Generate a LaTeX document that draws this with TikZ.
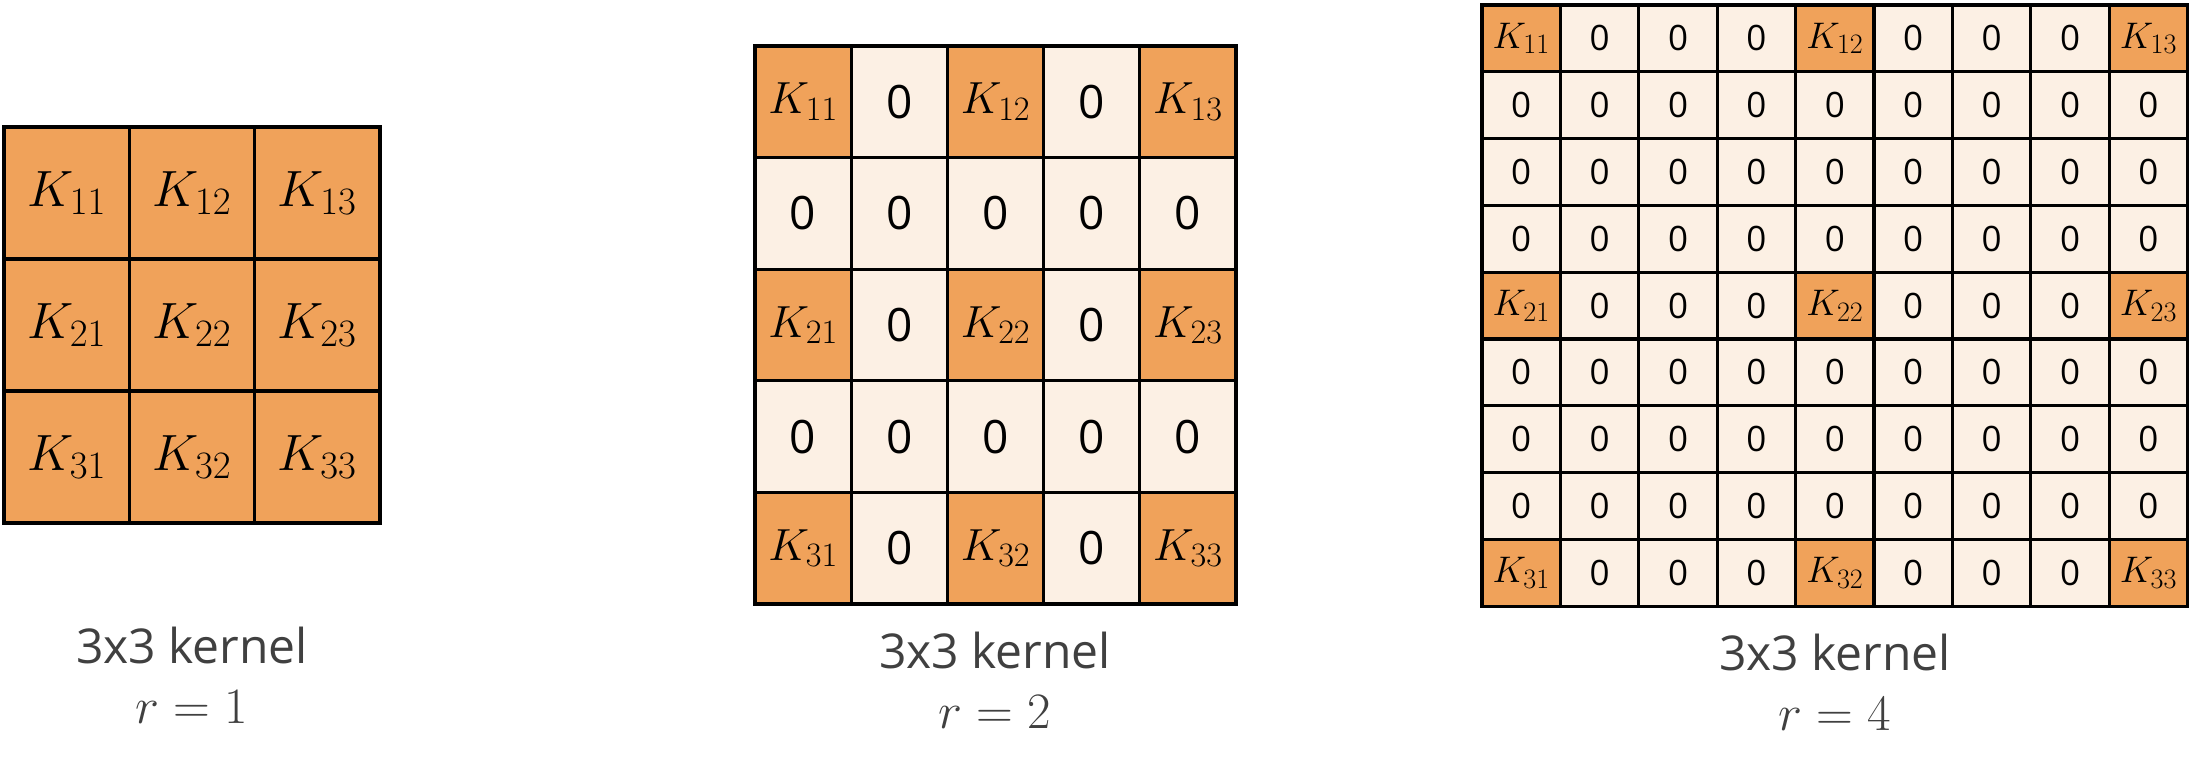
\RequirePackage{fix-cm}
\documentclass[tikz,border=0pt]{standalone}
\usepackage[no-math]{fontspec}
\setmainfont{Open Sans}
\renewcommand\defaultscriptratio{.76}

\definecolor{kfill}{HTML}{F0A25A}
\definecolor{zerofill}{HTML}{FCF0E4}
\definecolor{captiongray}{HTML}{404040}

\begin{document}
\begin{tikzpicture}[x=1pt, y=-1pt,
        cell/.style={draw, line width=3.2pt, inner sep=0pt, fill=zerofill},
        kcell/.style={cell, fill=kfill},
        caption/.style={text=captiongray, anchor=base, inner sep=0pt,
            font=\fontsize{48}{58}\selectfont},
        rate/.style={caption, font=\fontsize{51}{60}\selectfont}]
    \useasboundingbox (0, 0) rectangle (2192, 756);

    % r = 1
    \foreach \i in {1,2,3}
        \foreach \j in {1,2,3}
            \node[kcell, minimum width=125.3pt, minimum height=132pt,
                  font=\fontsize{51}{60}\selectfont]
                (a-\i-\j) at ({4+(\j-0.5)*125.3}, {127+(\i-0.5)*132}) {$K_{\i\j}$};

    % r = 2
    \foreach \i in {1,...,5}
        \foreach \j in {1,...,5} {
            \pgfmathtruncatemacro{\isk}{(mod(\i-1,2)+mod(\j-1,2))==0}
            \pgfmathtruncatemacro{\ki}{(\i+1)/2}
            \pgfmathtruncatemacro{\kj}{(\j+1)/2}
            \ifnum\isk=1
                \node[kcell, minimum width=96.2pt, minimum height=111.6pt,
                      font=\fontsize{45}{54}\selectfont]
                    (b-\i-\j) at ({755+(\j-0.5)*96.2}, {46+(\i-0.5)*111.6}) {$K_{\ki\kj}$};
            \else
                \node[cell, minimum width=96.2pt, minimum height=111.6pt,
                      font=\fontsize{46}{54}\selectfont]
                    (b-\i-\j) at ({755+(\j-0.5)*96.2}, {46+(\i-0.5)*111.6}) {0};
            \fi
        }

    % r = 4
    \foreach \i in {1,...,9}
        \foreach \j in {1,...,9} {
            \pgfmathtruncatemacro{\isk}{(mod(\i-1,4)+mod(\j-1,4))==0}
            \pgfmathtruncatemacro{\ki}{(\i-1)/4+1}
            \pgfmathtruncatemacro{\kj}{(\j-1)/4+1}
            \ifnum\isk=1
                \node[kcell, minimum width=78.4pt, minimum height=66.8pt,
                      font=\fontsize{37}{44}\selectfont]
                    (c-\i-\j) at ({1482+(\j-0.5)*78.4}, {5+(\i-0.5)*66.8}) {$K_{\ki\kj}$};
            \else
                \node[cell, minimum width=78.4pt, minimum height=66.8pt,
                      font=\fontsize{35}{42}\selectfont]
                    (c-\i-\j) at ({1482+(\j-0.5)*78.4}, {5+(\i-0.5)*66.8}) {0};
            \fi
        }

    \node[caption] (cap-a) at (192, 663) {3x3 kernel};
    \node[rate]    (r-a)   at (192, 723) {$r = 1$};
    \node[caption] (cap-b) at (995, 668) {3x3 kernel};
    \node[rate]    (r-b)   at (995, 728) {$r = 2$};
    \node[caption] (cap-c) at (1835, 670) {3x3 kernel};
    \node[rate]    (r-c)   at (1835, 730) {$r = 4$};
\end{tikzpicture}
\end{document}
